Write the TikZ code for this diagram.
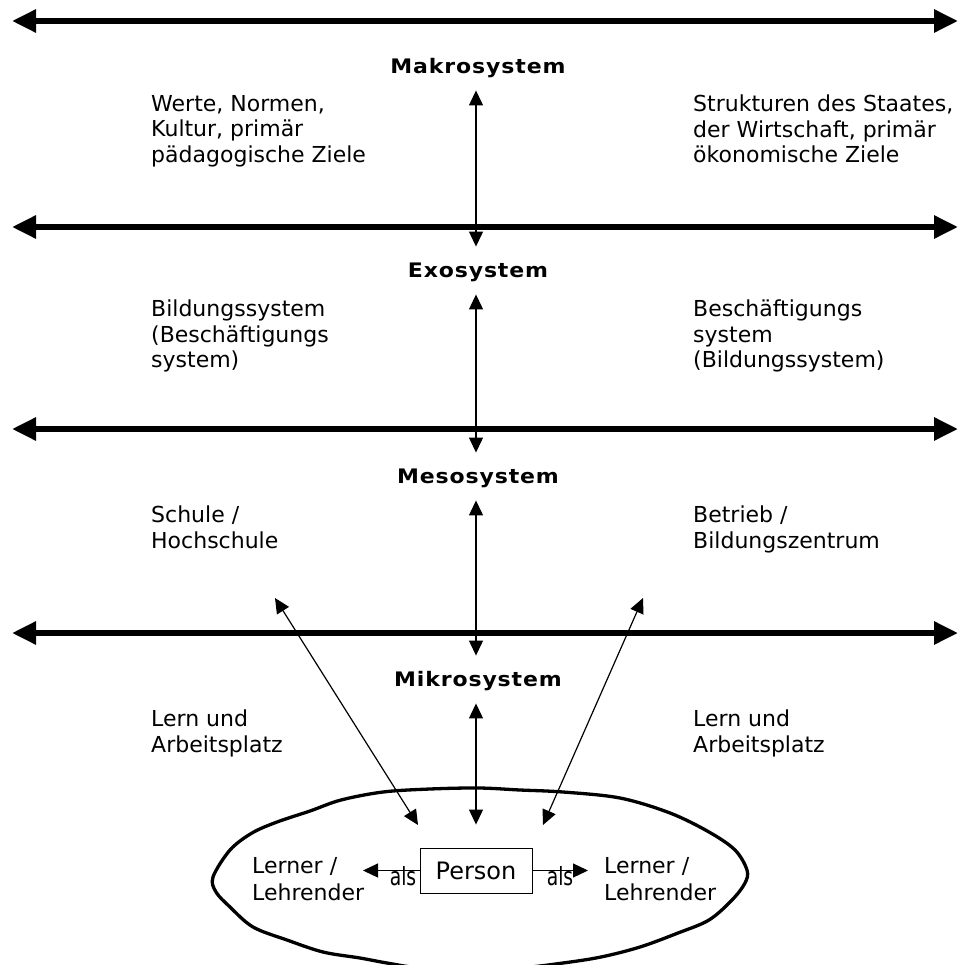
\documentclass[tikz,border=0pt]{standalone}
\usepackage{fontspec}
\setmainfont{DejaVu Sans}
\newfontfamily\headfont[LetterSpace=4]{DejaVu Sans}
\usetikzlibrary{arrows.meta}

% level names are set a little wider than the bold face
\newcommand\levelname[1]{\scalebox{1.1}[1]{#1}}

\tikzset{
  bigtip/.tip={Triangle[length=24pt,width=22pt]},
  smalltip/.tip={Triangle[length=15pt,width=14pt]},
  levelline/.style={line width=5.7pt, bigtip-bigtip},
  link/.style={line width=1.2pt, smalltip-smalltip},
  onelink/.style={line width=1.2pt, -smalltip},
  heading/.style={inner sep=0pt, text height=14.5pt, text depth=0pt,
    font=\headfont\bfseries\fontsize{20}{20}\selectfont},
  sidetext/.style={anchor=north west, align=left, inner sep=0pt,
    font=\fontsize{22}{25.5}\selectfont, execute at begin node=\strut},
  roletext/.style={anchor=north west, align=left, inner sep=0pt,
    font=\fontsize{22}{27}\selectfont, execute at begin node=\strut},
  personbox/.style={draw, line width=0.9pt, inner sep=0pt,
    minimum width=112pt, minimum height=45pt,
    font=\fontsize{24}{24}\selectfont},
  alslabel/.style={anchor=base, inner sep=0pt, font=\fontsize{25}{25}\selectfont},
}

\begin{document}
\begin{tikzpicture}[x=1pt, y=-1pt]
\useasboundingbox (0,0) rectangle (961,965);

% the four level boundaries
\coordinate (b1w) at (12,21);  \coordinate (b1e) at (958,21);
\coordinate (b2w) at (12,227); \coordinate (b2e) at (958,227);
\coordinate (b3w) at (12,429); \coordinate (b3e) at (958,429);
\coordinate (b4w) at (12,633); \coordinate (b4e) at (958,633);
\draw[levelline] (b1w) -- (b1e);
\draw[levelline] (b2w) -- (b2e);
\draw[levelline] (b3w) -- (b3e);
\draw[levelline] (b4w) -- (b4e);

% level headings
\node[heading] (makro) at (478,66)  {\levelname{Makrosystem}};
\node[heading] (exo)   at (478,270) {\levelname{Exosystem}};
\node[heading] (meso)  at (478,476) {\levelname{Mesosystem}};
\node[heading] (mikro) at (478,679) {\levelname{Mikrosystem}};

% descriptions per level (first baseline = y + 17.85)
\node[sidetext] (makroL) at (151,95)  {Werte, Normen,\\Kultur, primär\\pädagogische Ziele};
\node[sidetext] (makroR) at (693,95)  {Strukturen des Staates,\\der Wirtschaft, primär\\ökonomische Ziele};
\node[sidetext] (exoL)   at (151,300) {Bildungssystem\\(Beschäftigungs\\system)};
\node[sidetext] (exoR)   at (693,300) {Beschäftigungs\\system\\(Bildungssystem)};
\node[sidetext] (mesoL)  at (151,506) {Schule /\\Hochschule};
\node[sidetext] (mesoR)  at (693,506) {Betrieb /\\Bildungszentrum};
\node[sidetext] (mikroL) at (151,710) {Lern und\\Arbeitsplatz};
\node[sidetext] (mikroR) at (693,710) {Lern und\\Arbeitsplatz};

% the person inside the microsystem
\draw[line width=3.3pt, line join=round]
  plot[smooth cycle, tension=0.55] coordinates {
    (213,877) (230,850) (252,833) (277,822) (310,811) (341,800) (383,792)
    (430,789) (479,788) (520,790) (563,792) (620,798) (670,813) (709,832)
    (735,850) (747,870) (745,883) (732,900) (709,920) (678,933) (640,947)
    (601,957) (563,963) (520,968) (470,970) (420,968) (387,963) (360,958)
    (323,952) (287,940) (253,927) (230,907) (216,892)};

\node[personbox] (person) at (476,870.5) {Person};
\node[roletext] (roleL) at (252,857) {Lerner /\\Lehrender};
\node[roletext] (roleR) at (604,857) {Lerner /\\Lehrender};
\coordinate (alsLtip) at (363,872);
\coordinate (alsRtip) at (588,872);
\draw[onelink] (person.west) -- (person.west -| alsLtip);
\draw[onelink] (person.east) -- (person.east -| alsRtip);
\node[alslabel] (alsL) at (403,885) {\scalebox{0.75}[1]{als}};
\node[alslabel] (alsR) at (560,885) {\scalebox{0.75}[1]{als}};

% links between the levels
\coordinate (axis) at (476,0);
\draw[link, shorten <=17pt, shorten >=16pt] (makro.south -| axis) -- (exo.north -| axis);
\draw[link, shorten <=17pt, shorten >=16pt] (exo.south -| axis) -- (meso.north -| axis);
\draw[link, shorten <=17pt, shorten >=16pt] (meso.south -| axis) -- (mikro.north -| axis);
\draw[link, shorten <=17pt, shorten >=23pt] (mikro.south -| axis) -- (person.north);

% links from school and company to the person
\coordinate (schuleTip) at (275,598);
\coordinate (betriebTip) at (643,598);
\coordinate (personInL) at (418,825);
\coordinate (personInR) at (543,825);
\draw[link] (schuleTip) -- (personInL);
\draw[link] (betriebTip) -- (personInR);
\end{tikzpicture}
\end{document}
